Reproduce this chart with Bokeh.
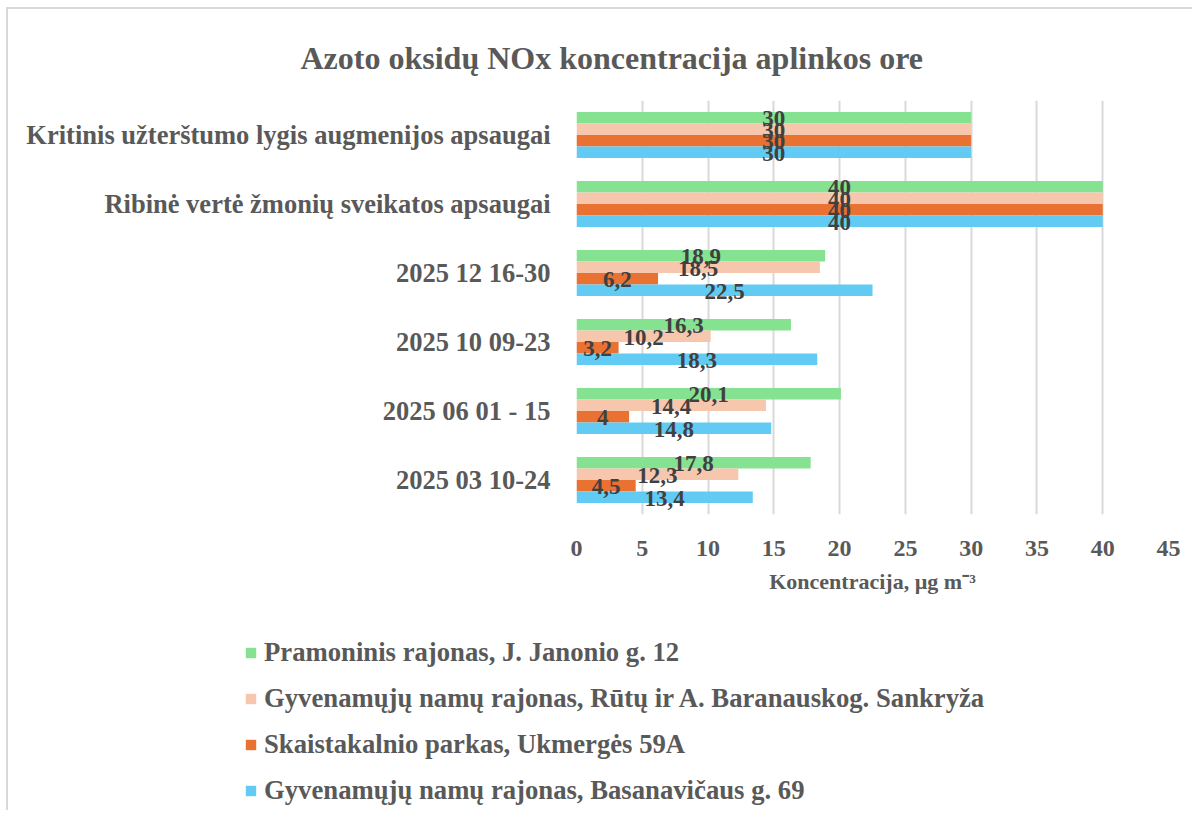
from bokeh.plotting import figure
from bokeh.layouts import column
from bokeh.models import (ColumnDataSource, FactorRange, Range1d, FixedTicker, LabelSet,
                          Legend, LegendItem)
from bokeh.transform import dodge
from bokeh.embed import file_html
from bokeh.resources import INLINE

categories = ["2025 03 10-24", "2025 06 01 - 15", "2025 10 09-23", "2025 12 16-30",
              "Ribinė vertė žmonių sveikatos apsaugai",
              "Kritinis užterštumo lygis augmenijos apsaugai"]
series_names = ["Pramoninis rajonas, J. Janonio g. 12",
                "Gyvenamųjų namų rajonas, Rūtų ir A. Baranauskog. Sankryža",
                "Skaistakalnio parkas, Ukmergės 59A",
                "Gyvenamųjų namų rajonas, Basanavičaus g. 69"]
pramoninis = [17.8, 20.1, 16.3, 18.9, 40, 30]
rutu = [12.3, 14.4, 10.2, 18.5, 40, 30]
skaistakalnio = [4.5, 4, 3.2, 6.2, 40, 30]
basanaviciaus = [13.4, 14.8, 18.3, 22.5, 40, 30]
x_ticks = [0, 5, 10, 15, 20, 25, 30, 35, 40, 45]

colors = ["#84E291", "#F6C6AD", "#E97132", "#61CBF3"]
offsets = [0.25, 0.0833, -0.0833, -0.25]
series = [pramoninis, rutu, skaistakalnio, basanaviciaus]

FONT = "Liberation Serif"
GREY = "#595959"

p = figure(width=1186, height=603, y_range=FactorRange(*categories),
           x_range=Range1d(0, 45), output_backend="svg", toolbar_location=None,
           min_border_left=568, min_border_right=26, min_border_top=91,
           min_border_bottom=98)
p.frame_align = False
p.styles = {"border-left": "2px solid #D9D9D9", "border-top": "2px solid #D9D9D9",
            "margin-left": "6px", "margin-top": "7px"}
p.outline_line_color = None

p.title.text = "Azoto oksidų NOx koncentracija aplinkos ore"
p.title.text_font = FONT
p.title.text_font_size = "32px"
p.title.text_font_style = "bold"
p.title.text_color = GREY
p.title.align = "left"
p.title.offset = -276
p.title.standoff = 50

sources = []
for vals, col, off in zip(series, colors, offsets):
    src = ColumnDataSource(dict(cat=categories, val=vals,
                                half=[v / 2 for v in vals],
                                lab=[(f"{v:g}").replace(".", ",") for v in vals]))
    sources.append(src)
    p.hbar(y=dodge("cat", off, range=p.y_range), right="val", left=0, height=0.1667,
           source=src, fill_color=col, line_color=None)
    ls = LabelSet(x="half", y=dodge("cat", off, range=p.y_range), text="lab", source=src,
                  text_align="center", text_baseline="middle", text_font=FONT,
                  text_font_size="23px", text_font_style="bold", text_color="#404040",
                  y_offset=-1)
    p.add_layout(ls)

p.xaxis.ticker = FixedTicker(ticks=x_ticks)
p.xaxis.axis_line_color = None
p.xaxis.major_tick_line_color = None
p.xaxis.minor_tick_line_color = None
p.xaxis.major_label_text_font = FONT
p.xaxis.major_label_text_font_size = "24px"
p.xaxis.major_label_text_font_style = "bold"
p.xaxis.major_label_text_color = GREY
p.xaxis.major_label_standoff = 20
p.xaxis.axis_label = "Koncentracija, µg m⁻³"
p.xaxis.axis_label_text_font = FONT
p.xaxis.axis_label_text_font_size = "22px"
p.xaxis.axis_label_text_font_style = "bold"
p.xaxis.axis_label_text_color = GREY
p.xaxis.axis_label_standoff = 10

p.yaxis.axis_line_color = None
p.yaxis.major_tick_line_color = None
p.yaxis.minor_tick_line_color = None
p.yaxis.major_label_text_font = FONT
p.yaxis.major_label_text_font_size = "26.5px"
p.yaxis.major_label_text_font_style = "bold"
p.yaxis.major_label_text_color = GREY
p.yaxis.major_label_standoff = 20

p.xgrid.grid_line_color = "#D9D9D9"
p.xgrid.grid_line_width = 2
p.ygrid.grid_line_color = None

# legend strip below the chart (its bars lie outside its visible x range)
p2 = figure(width=1186, height=200, output_backend="svg", toolbar_location=None,
            y_range=FactorRange(*categories), x_range=Range1d(-2, -1),
            x_axis_location=None, y_axis_location=None,
            min_border_left=236, min_border_top=27, min_border_right=0, min_border_bottom=0)
p2.frame_align = False
p2.styles = {"border-left": "2px solid #D9D9D9", "margin-left": "6px"}
p2.outline_line_color = None
p2.grid.grid_line_color = None
items = []
for src, col, name in zip(sources, colors, series_names):
    r = p2.hbar(y="cat", right="val", left=0, height=0.5, source=src,
                fill_color=col, line_color=None)
    items.append(LegendItem(label=name, renderers=[r]))
legend = Legend(items=items, location="top_left", orientation="vertical",
                label_text_font=FONT, label_text_font_size="26.7px",
                label_text_font_style="bold", label_text_color=GREY,
                glyph_width=13, glyph_height=13, label_height=26, spacing=15,
                padding=0, margin=0, border_line_color=None, background_fill_alpha=0,
                label_standoff=7)
p2.add_layout(legend, "center")

layout = column(p, p2, spacing=0)
open("out.html", "w").write(file_html(layout, INLINE))
